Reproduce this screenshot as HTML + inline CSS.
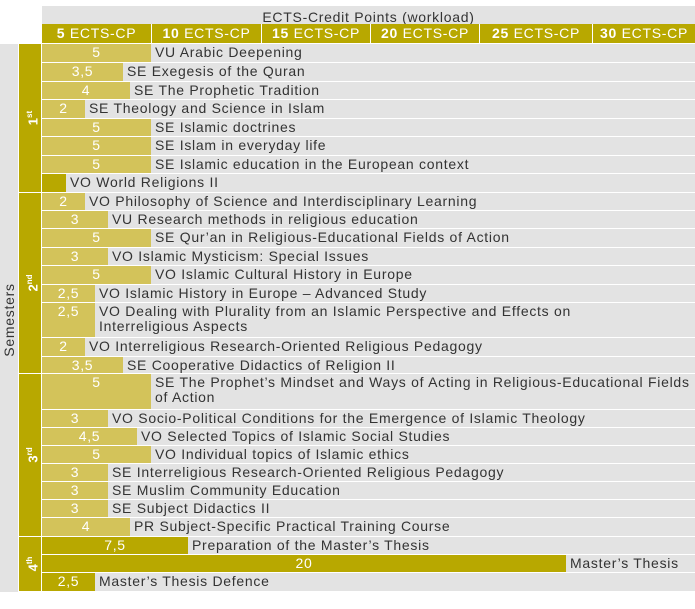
<!DOCTYPE html>
<html><head><meta charset="utf-8"><style>
body{margin:0;width:695px;height:609px;background:#fff;position:relative;overflow:hidden;font-family:"Liberation Sans",sans-serif;font-size:14px;letter-spacing:0.72px;color:#333}
div{position:absolute;box-sizing:border-box}
.g{background:#e3e3e3}
.d{background:#b8a800}
.l{background:#d3c35a}
.n{color:#fff;text-align:center}
.t{white-space:nowrap;line-height:15px}
.h{color:#fff;text-align:center;line-height:19px}
.rot{transform:rotate(-90deg);white-space:nowrap;text-align:center}
sup{font-size:8px}
</style></head><body>
<div class="g" style="left:42px;top:6px;width:653px;height:18px;text-align:center;line-height:22px">ECTS-Credit Points (workload)</div>
<div class="g" style="left:0;top:44px;width:18px;height:548px"></div>
<div class="rot" style="left:-51px;top:311px;width:120px;height:18px;line-height:18px">Semesters</div>
<div id="c"></div>
<script>
var c=document.getElementById('c'),h='';
var cols=[42,151,261,370,479,592,695];
for(var i=0;i<6;i++){h+='<div class="d h" style="left:'+(cols[i]+(i?1:0))+'px;top:24px;width:'+(cols[i+1]-cols[i]-(i?1:0))+'px;height:19px"><b>'+(5*(i+1))+'</b> ECTS-CP</div>';}
var sems=[[44,192,'1<sup>st</sup>'],[193,373,'2<sup>nd</sup>'],[374,536,'3<sup>rd</sup>'],[537,591,'4<sup>th</sup>']];
sems.forEach(function(s){h+='<div class="d" style="left:19px;top:'+s[0]+'px;width:22px;height:'+(s[1]-s[0])+'px"></div>';
h+='<div class="rot" style="left:0;top:'+((s[0]+s[1])/2-9)+'px;width:60px;height:18px;line-height:18px;color:#fff;font-weight:bold;font-size:13px;letter-spacing:0">'+s[2]+'</div>';});
var W={5:109,3.5:81,4:88,2:43,3:66,2.5:53,4.5:95,7.5:146,1.1:24,24:524};
var R=[[44,18,5,'5','VU Arabic Deepening'],[63,18,3.5,'3,5','SE Exegesis of the Quran'],[82,17,4,'4','SE The Prophetic Tradition'],[100,18,2,'2','SE Theology and Science in Islam'],[119,17,5,'5','SE Islamic doctrines'],[137,18,5,'5','SE Islam in everyday life'],[156,17,5,'5','SE Islamic education in the European context'],[174,18,1.1,'','VO World Religions II',1],
[193,17,2,'2','VO Philosophy of Science and Interdisciplinary Learning'],[211,17,3,'3','VU Research methods in religious education'],[229,18,5,'5','SE Qur’an in Religious-Educational Fields of Action'],[248,17,3,'3','VO Islamic Mysticism: Special Issues'],[266,18,5,'5','VO Islamic Cultural History in Europe'],[285,17,2.5,'2,5','VO Islamic History in Europe – Advanced Study'],[303,34,2.5,'2,5','VO Dealing with Plurality from an Islamic Perspective and Effects on<br>Interreligious Aspects'],[338,18,2,'2','VO Interreligious Research-Oriented Religious Pedagogy'],[357,16,3.5,'3,5','SE Cooperative Didactics of Religion II'],
[374,35,5,'5','SE The Prophet’s Mindset and Ways of Acting in Religious-Educational Fields<br>of Action'],[410,17,3,'3','VO Socio-Political Conditions for the Emergence of Islamic Theology'],[428,17,4.5,'4,5','VO Selected Topics of Islamic Social Studies'],[446,17,5,'5','VO Individual topics of Islamic ethics'],[464,17,3,'3','SE Interreligious Research-Oriented Religious Pedagogy'],[482,17,3,'3','SE Muslim Community Education'],[500,17,3,'3','SE Subject Didactics II'],[518,18,4,'4','PR Subject-Specific Practical Training Course'],
[537,17,7.5,'7,5','Preparation of the Master’s Thesis',1],[555,17,24,'20','Master’s Thesis',1],[573,18,2.5,'2,5','Master’s Thesis Defence',1]];
R.forEach(function(r){var w=W[r[2]];
h+='<div class="g" style="left:42px;top:'+r[0]+'px;width:653px;height:'+r[1]+'px"></div>';
h+='<div class="'+(r[0]>=537||r[0]==174?'d':'l')+' n" style="left:42px;top:'+r[0]+'px;width:'+w+'px;height:'+r[1]+'px;line-height:15px;padding-top:1px">'+r[3]+'</div>';
h+='<div class="t" style="left:'+(42+w+4)+'px;top:'+(r[0]+1)+'px">'+r[4]+'</div>';});
c.innerHTML=h;
</script>
</body></html>
